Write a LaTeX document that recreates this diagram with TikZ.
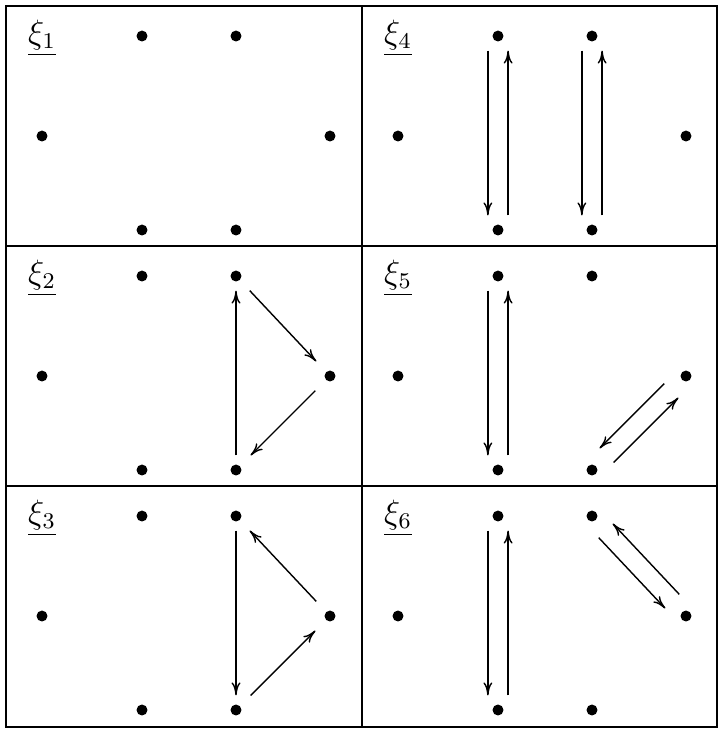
\documentclass[tikz,border=0pt]{standalone}
\usepackage{amsmath,amssymb}
\usepackage{tikz}
\usetikzlibrary{arrows.meta}

\begin{document}
\begin{tikzpicture}[x=0.0125cm, y=-0.0125cm,
  pt/.style={rectangle, minimum size=10pt, inner sep=0pt,
    path picture={\fill[black] (path picture bounding box.center) circle (1.95pt);}},
  arr/.style={line width=0.5pt, -{Computer Modern Rightarrow[length=4.6pt,width=3.2pt]}},
  frame/.style={line width=0.8pt},
  lbl/.style={inner sep=0pt, font=\large}]
\useasboundingbox (0,0) rectangle (718,729);
\draw[frame] (6,6) rectangle (717,727);
\draw[frame] (362,6) -- (362,727);
\draw[frame] (6,246) -- (717,246);
\draw[frame] (6,486) -- (717,486);
\foreach \k/\cx/\cy in {1/6/6, 2/6/246, 3/6/486, 4/362/6, 5/362/246, 6/362/486}{
  \begin{scope}[shift={(\cx,\cy)}]
    \node[lbl] (l\k) at (36,32) {\underline{$\xi_{\k}$}};
    \foreach \n/\x/\y in {tl/136/30, tr/230/30, ml/36/130, mr/324/130, bl/136/224, br/230/224}
      \node[pt] (c\k\n) at (\x,\y) {};
  \end{scope}
}
\draw[arr] (c2tr) -- (c2mr);
\draw[arr] (c2mr) -- (c2br);
\draw[arr] (c2br) -- (c2tr);
\draw[arr] (c3tr) -- (c3br);
\draw[arr] (c3br) -- (c3mr);
\draw[arr] (c3mr) -- (c3tr);
\foreach \a/\b/\sx/\sy in {c4tl/c4bl/-3.6/0, c4bl/c4tl/3.6/0, c4tr/c4br/-3.6/0, c4br/c4tr/3.6/0,
c5tl/c5bl/-3.6/0, c5bl/c5tl/3.6/0, c5mr/c5br/-2.5/2.5, c5br/c5mr/2.5/-2.5,
c6tl/c6bl/-3.6/0, c6bl/c6tl/3.6/0, c6tr/c6mr/-2.5/-2.5, c6mr/c6tr/2.5/2.5}
  \draw[arr, transform canvas={shift={(\sx pt,\sy pt)}}] (\a) -- (\b);
\end{tikzpicture}
\end{document}
